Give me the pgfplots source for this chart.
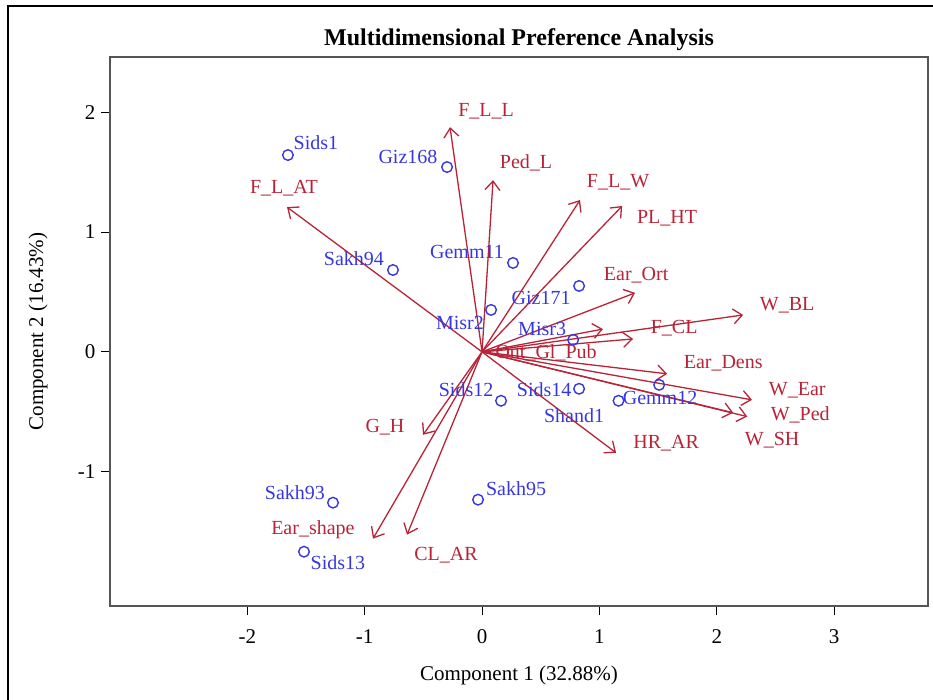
\documentclass[border=0pt]{standalone}
\usepackage{fontspec}
\setmainfont{Liberation Serif}
\usepackage{pgfplots}
\pgfplotsset{compat=1.18}
\usepackage{pgfplotstable}
\usetikzlibrary{arrows.meta}
\definecolor{vecred}{RGB}{185,35,55}
\definecolor{obsblue}{RGB}{55,55,225}
\definecolor{axgray}{RGB}{85,85,85}

\pgfplotstableread{
x y u v
0 0 -0.273 1.875
0 0 0.094 1.433
0 0 0.835 1.267
0 0 1.194 1.217
0 0 1.304 0.492
0 0 2.225 0.308
0 0 1.030 0.190
0 0 1.287 0.108
0 0 1.577 -0.183
0 0 2.300 -0.400
0 0 2.140 -0.508
0 0 2.260 -0.540
0 0 1.142 -0.842
0 0 -0.503 -0.692
0 0 -0.929 -1.558
0 0 -0.639 -1.525
0 0 -1.662 1.208
}\vectors

\pgfplotstableread{
x y
-1.654 1.642
-0.298 1.542
-0.759 0.683
0.264 0.742
0.827 0.550
0.077 0.350
0.776 0.100
0.162 -0.408
0.827 -0.308
1.163 -0.408
1.509 -0.275
-1.270 -1.258
-0.034 -1.233
-1.517 -1.667
}\obs

\pgfplotstableread{
x y label
-1.415 1.742 Sids1
-0.631 1.625 Giz168
-1.091 0.775 Sakh94
-0.128 0.833 Gemm11
0.503 0.450 Giz171
-0.188 0.242 Misr2
0.512 0.192 Misr3
-0.136 -0.317 Sids12
0.529 -0.317 Sids14
0.784 -0.533 Shand1
1.517 -0.383 Gemm12
-1.594 -1.175 Sakh93
0.290 -1.142 Sakh95
-1.228 -1.758 Sids13
}\obslabels

\pgfplotstableread{
x y label
0.034 2.008 F\_L\_L
0.375 1.575 Ped\_L
1.159 1.417 F\_L\_W
1.577 1.117 PL\_HT
1.313 0.642 Ear\_Ort
2.600 0.392 W\_BL
1.637 0.200 F\_CL
0.546 -0.008 Out\_Gl\_Pub
2.055 -0.092 Ear\_Dens
2.686 -0.317 W\_Ear
2.711 -0.525 W\_Ped
2.472 -0.733 W\_SH
1.569 -0.758 HR\_AR
-0.827 -0.625 G\_H
-1.441 -1.483 Ear\_shape
-0.307 -1.700 CL\_AR
-1.688 1.367 F\_L\_AT
}\veclabels

\begin{document}
\begin{tikzpicture}[x=1pt,y=1pt]
\path[use as bounding box] (0,0) rectangle (933,700);
\draw[line width=2pt] (8,-20) -- (8,694) -- (960,694);
\begin{axis}[
  at={(110pt,94pt)}, anchor=south west,
  scale only axis, width=818pt, height=549pt,
  xmin=-3.17, xmax=3.80, ymin=-2.12, ymax=2.46,
  xtick={-2,-1,0,1,2,3}, ytick={-1,0,1,2},
  tick pos=left, tick align=outside,
  major tick length=9pt,
  every tick/.style={black, line width=1pt},
  axis line style={axgray, line width=1.6pt},
  /pgf/number format/assume math mode=true,
  tick label style={font=\fontsize{21}{24}\selectfont},
  xticklabel style={yshift=-11pt},
  yticklabel style={xshift=-2pt},
  title={\textbf{Multidimensional Preference Analysis}},
  title style={at={(axis description cs:0.5,1)}, anchor=center, yshift=11pt, font=\fontsize{24}{28}\selectfont},
  xlabel={Component 1 (32.88\%)},
  ylabel={Component 2 (16.43\%)},
  xlabel style={at={(axis description cs:0.5,0)}, anchor=center, yshift=-69pt, font=\fontsize{21}{24}\selectfont},
  ylabel style={at={(axis description cs:-0.088,0.5)}, anchor=center, font=\fontsize{21}{24}\selectfont},
  clip=false,
]
\addplot[vecred, line width=1.3pt, -{Straight Barb[length=9pt,width=15pt,line width=1.3pt]},
  quiver={u=\thisrow{u}, v=\thisrow{v}}] table[x=x,y=y] {\vectors};
\addplot[only marks, mark=o, mark size=5.3pt, obsblue, mark options={line width=1.4pt}] table[x=x,y=y] {\obs};
\addplot[draw=none, mark=none, nodes near coords, point meta=explicit symbolic,
  every node near coord/.style={anchor=center, inner sep=0pt, text=obsblue, font=\fontsize{20}{22}\selectfont}]
  table[x=x,y=y,meta=label] {\obslabels};
\addplot[draw=none, mark=none, nodes near coords, point meta=explicit symbolic,
  every node near coord/.style={anchor=center, inner sep=0pt, text=vecred, font=\fontsize{20}{22}\selectfont}]
  table[x=x,y=y,meta=label] {\veclabels};
\end{axis}
\end{tikzpicture}
\end{document}
